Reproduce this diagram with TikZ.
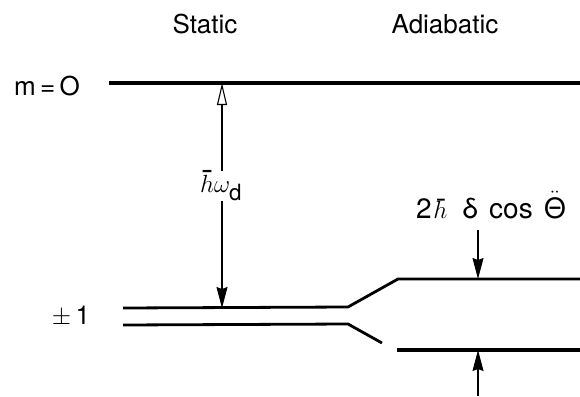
\documentclass[tikz,border=0pt]{standalone}
\usepackage{amsmath}
\usepackage{fontspec}
\setmainfont{TeX Gyre Heros}
\usetikzlibrary{arrows.meta}

\begin{document}
\begin{tikzpicture}[x=1pt,y=-1pt,>=Stealth,
    level/.style={line width=2.8pt},
    label/.style={font=\fontsize{26}{30}\selectfont,inner sep=0pt},
    fillhead/.style={-{Stealth[length=21pt,width=11pt,inset=2pt]},line width=1.1pt},
    openhead/.style={-{Triangle[open,length=22pt,width=10pt]},line width=1.1pt}]
    \useasboundingbox (0,0) rectangle (580,396);
    % levels
    \coordinate (m0l) at (109,83);
    \coordinate (m0r) at (580,83);
    \coordinate (sa1) at (123,308);
    \coordinate (sa2) at (348,307);
    \coordinate (ad1) at (398,279);
    \coordinate (ad2) at (580,279);
    \coordinate (sb1) at (123,325);
    \coordinate (sb2) at (348,324);
    \coordinate (sb3) at (382,343);
    \coordinate (al1) at (397,350);
    \coordinate (al2) at (580,350);
    \draw[level,line width=3.2pt] (m0l) -- (m0r);
    \draw[level,line join=round] (sa1) -- (sa2) -- (ad1) -- (ad2);
    \draw[level,line join=round] (sb1) -- (sb2) -- (sb3);
    \draw[level,line width=3.6pt] (al1) -- (al2);
    % texts
    \node[label] (static) at (205,24) {Static};
    \node[label] (adiab) at (445,24) {Adiabatic};
    \node[label] (m0) at (47,86) {m\,=\,O};
    \node[label] (pm1) at (71,316) {$\pm$\,1};
    \node[label,font=\fontsize{32}{36}\selectfont] (hw) at (222,186) {$\hbar\omega_{\text{d}}$};
    \node[label,font=\fontsize{28}{32}\selectfont] (split) at (491,205) {2\,$\hbar$\hspace{0.55em}δ\hspace{0.4em}cos\hspace{0.4em}\ensuremath{\ddot{\text{Θ}}}};
    % arrows
    \coordinate (ua) at (478,230);
    \coordinate (lb) at (478,396);
    \draw[openhead] (hw) -- (hw |- m0l);
    \draw[fillhead] (hw) -- (hw |- sa1);
    \draw[fillhead] (ua) -- (ua |- ad1);
    \draw[fillhead] (lb) -- (lb |- al1);
\end{tikzpicture}
\end{document}
